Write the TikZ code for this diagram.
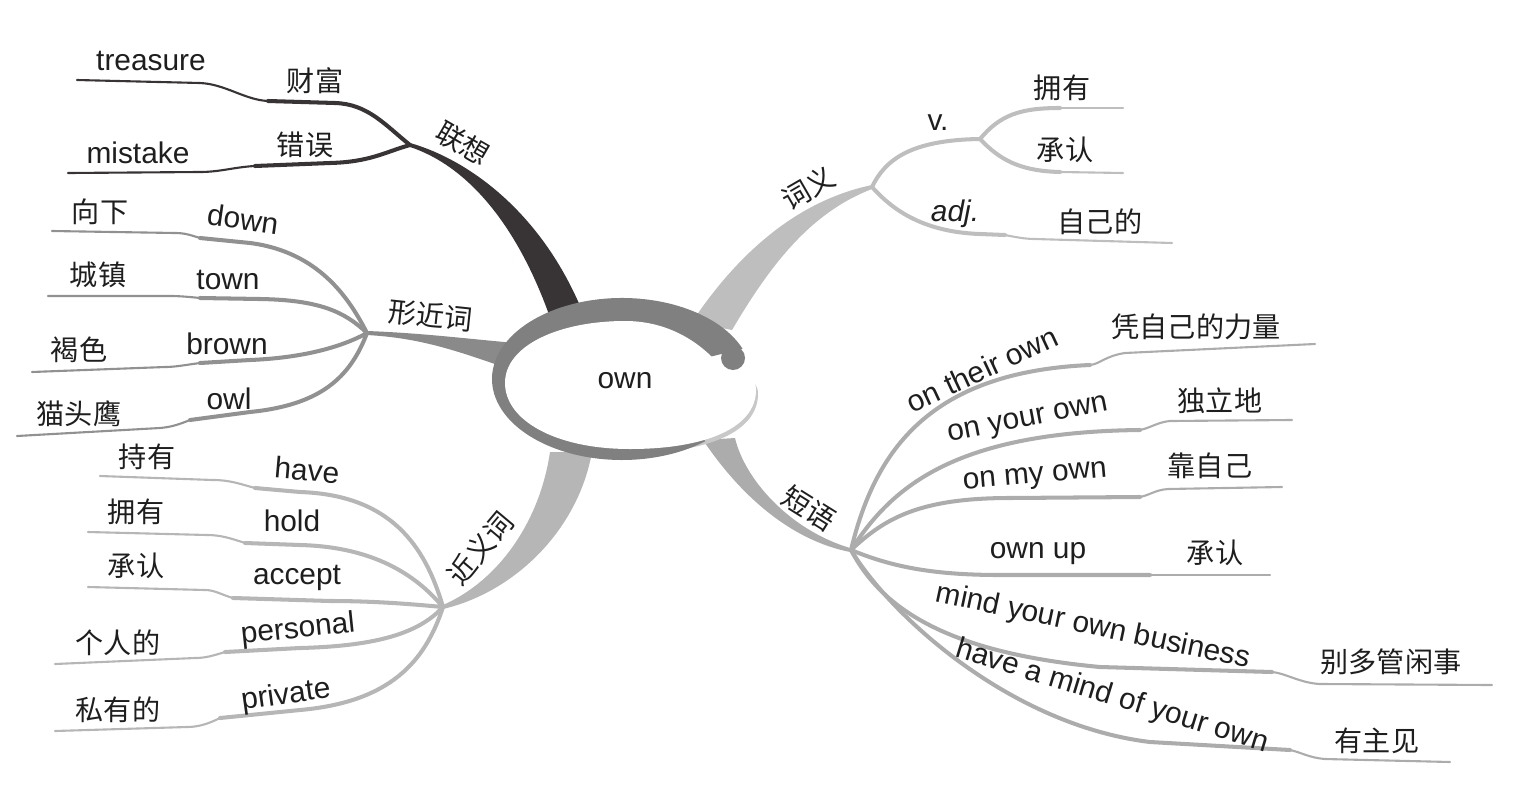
\documentclass[tikz,border=0pt]{standalone}
\usepackage{fontspec}
\setmainfont{Liberation Sans}
\newfontfamily\cjk{Noto Sans CJK SC}
\definecolor{assocdark}{RGB}{56,52,53}
\definecolor{formgray}{RGB}{145,145,145}
\definecolor{synlight}{RGB}{182,182,182}
\definecolor{senselight}{RGB}{190,190,190}
\definecolor{phrasegray}{RGB}{172,172,172}
\definecolor{ringgray}{RGB}{128,128,128}
\definecolor{rimgray}{RGB}{200,200,200}
\definecolor{inkblack}{RGB}{30,30,30}
\newcommand{\enfont}{\fontsize{17}{20}\selectfont}
\newcommand{\zhfont}{\cjk\fontsize{16}{20}\selectfont}

\begin{document}
\begin{tikzpicture}[
  x=0.02cm, y=-0.02cm,
  stem/.style={line width=2.3pt, line cap=round, line join=round},
  tail/.style={line width=1.2pt, line cap=round, line join=round},
  en/.style={font=\enfont, text=inkblack, inner sep=0pt},
  zh/.style={font=\zhfont, text=inkblack, inner sep=0pt}
]
  \useasboundingbox (0,0) rectangle (1517,801);

  \coordinate (assoc) at (410,145);
  \coordinate (form) at (367,333);
  \coordinate (syn) at (443,607);
  \coordinate (sense) at (872,187);
  \coordinate (verb) at (980,139);
  \coordinate (phrase) at (851,550);

  % main branches
  \fill[assocdark] (410,143) .. controls (470,160) and (545,215) .. (585,318) -- (553,326) .. controls (518,222) and (465,165) .. (410,147) -- cycle;
  \fill[formgray!95!black] (367,331) .. controls (420,333) and (460,338) .. (515,343) -- (512,370) .. controls (455,350) and (420,338) .. (367,335) -- cycle;
  \fill[synlight] (443,605) .. controls (500,580) and (540,520) .. (550,452) -- (592,452) .. controls (578,530) and (515,592) .. (443,609) -- cycle;
  \fill[senselight] (692,322) .. controls (740,250) and (800,200) .. (872,185) -- (872,189) .. controls (812,212) and (772,262) .. (732,330) -- cycle;
  \fill[phrasegray] (735,438) .. controls (745,480) and (790,530) .. (850,548) -- (850,552) .. controls (790,540) and (740,495) .. (703,440) -- cycle;

  % 联想
  \coordinate (treasure-end) at (77,80);
  \coordinate (mistake-end) at (68,173);
  \draw[stem, assocdark] (assoc) .. controls (385,125) and (368,104) .. (335,103) -- (268,101);
  \draw[tail, assocdark] (268,101) .. controls (245,100) and (225,84) .. (200,83) -- (treasure-end);
  \draw[stem, assocdark] (assoc) .. controls (385,152) and (370,162) .. (330,163) -- (255,166);
  \draw[tail, assocdark] (255,166) .. controls (235,167) and (220,172) .. (200,172) -- (mistake-end);

  % 形近词
  \coordinate (down-end) at (52,231);
  \coordinate (town-end) at (48,296);
  \coordinate (brown-end) at (32,372);
  \coordinate (owl-end) at (17,436);
  \draw[stem, formgray] (form) .. controls (350,300) and (320,252) .. (250,243) -- (200,238);
  \draw[tail, formgray] (200,238) .. controls (190,235) and (185,233) .. (175,233) -- (down-end);
  \draw[stem, formgray] (form) .. controls (345,312) and (320,300) .. (260,299) -- (200,298);
  \draw[tail, formgray] (200,298) .. controls (190,297) and (180,296) .. (170,296) -- (town-end);
  \draw[stem, formgray] (form) .. controls (340,348) and (300,358) .. (250,360) -- (200,363);
  \draw[tail, formgray] (200,363) .. controls (185,365) and (175,367) .. (165,367) -- (brown-end);
  \draw[stem, formgray] (form) .. controls (350,378) and (320,405) .. (250,412) -- (190,420);
  \draw[tail, formgray] (190,420) .. controls (180,424) and (172,427) .. (160,428) -- (owl-end);

  % 近义词
  \coordinate (have-end) at (100,476);
  \coordinate (hold-end) at (88,532);
  \coordinate (accept-end) at (88,587);
  \coordinate (personal-end) at (55,664);
  \coordinate (private-end) at (55,731);
  \draw[stem, synlight] (syn) .. controls (425,545) and (390,495) .. (300,492) -- (255,488);
  \draw[tail, synlight] (255,488) .. controls (240,484) and (230,480) .. (213,480) -- (have-end);
  \draw[stem, synlight] (syn) .. controls (420,580) and (380,547) .. (300,545) -- (245,543);
  \draw[tail, synlight] (245,543) .. controls (230,538) and (220,535) .. (207,535) -- (hold-end);
  \draw[stem, synlight] (syn) .. controls (420,605) and (380,601) .. (330,601) -- (233,598);
  \draw[tail, synlight] (233,598) .. controls (222,595) and (215,590) .. (205,590) -- (accept-end);
  \draw[stem, synlight] (syn) .. controls (420,632) and (380,646) .. (300,648) -- (225,652);
  \draw[tail, synlight] (225,652) .. controls (212,656) and (205,658) .. (195,658) -- (personal-end);
  \draw[stem, synlight] (syn) .. controls (425,662) and (390,702) .. (300,710) -- (220,718);
  \draw[tail, synlight] (220,718) .. controls (208,724) and (198,727) .. (187,727) -- (private-end);

  % 词义
  \coordinate (possess-end) at (1123,108);
  \coordinate (admit-end) at (1123,173);
  \coordinate (adj-end) at (1172,243);
  \draw[stem, senselight] (sense) .. controls (885,160) and (910,140) .. (verb);
  \draw[stem, senselight] (verb) .. controls (1000,115) and (1020,108) .. (1060,108);
  \draw[tail, senselight] (1060,108) -- (possess-end);
  \draw[stem, senselight] (verb) .. controls (1000,160) and (1020,171) .. (1060,172);
  \draw[tail, senselight] (1060,172) -- (admit-end);
  \draw[stem, senselight] (sense) .. controls (890,207) and (920,232) .. (980,234) -- (1005,235);
  \draw[tail, senselight] (1005,235) .. controls (1015,237) and (1025,239) .. (1035,239) -- (adj-end);

  % 短语
  \coordinate (their-end) at (1315,344);
  \coordinate (your-end) at (1292,420);
  \coordinate (my-end) at (1282,487);
  \coordinate (up-end) at (1270,575);
  \coordinate (business-end) at (1492,685);
  \coordinate (mind-end) at (1450,762);
  \draw[stem, phrasegray] (phrase) .. controls (875,450) and (930,372) .. (1090,365);
  \draw[tail, phrasegray] (1090,365) .. controls (1100,364) and (1105,356) .. (1125,353) -- (their-end);
  \draw[stem, phrasegray] (phrase) .. controls (890,490) and (950,432) .. (1140,430);
  \draw[tail, phrasegray] (1140,430) .. controls (1150,428) and (1158,422) .. (1170,421) -- (your-end);
  \draw[stem, phrasegray] (phrase) .. controls (885,518) and (920,498) .. (1010,498) -- (1140,497);
  \draw[tail, phrasegray] (1140,497) .. controls (1150,495) and (1155,490) .. (1168,489) -- (my-end);
  \draw[stem, phrasegray] (phrase) .. controls (890,566) and (930,575) .. (1000,575) -- (1150,575);
  \draw[tail, phrasegray] (1150,575) -- (up-end);
  \draw[stem, phrasegray] (phrase) .. controls (880,605) and (940,652) .. (1100,667) -- (1272,672);
  \draw[tail, phrasegray] (1272,672) .. controls (1285,673) and (1300,683) .. (1320,684) -- (business-end);
  \draw[stem, phrasegray] (phrase) .. controls (890,615) and (1010,725) .. (1150,742) -- (1290,750);
  \draw[tail, phrasegray] (1290,750) .. controls (1300,752) and (1310,758) .. (1325,759) -- (mind-end);

  % central disc
  \fill[rimgray, shift={(2,4)}] (625,321) .. controls (672,321) and (704,346) .. (721,367) .. controls (732,376) and (756,370) .. (756,390) .. controls (756,428) and (705,449) .. (630,449) .. controls (555,449) and (505,420) .. (505,383) .. controls (505,345) and (560,321) .. (625,321) -- cycle;
  \fill[ringgray] (622,379) -- ++(338:130 and 81) arc[start angle=338, end angle=50, x radius=130, y radius=81] -- cycle;
  \fill[white] (625,321) .. controls (672,321) and (704,346) .. (721,367) .. controls (732,376) and (756,370) .. (756,390) .. controls (756,428) and (705,449) .. (630,449) .. controls (555,449) and (505,420) .. (505,383) .. controls (505,345) and (560,321) .. (625,321) -- cycle;
  \fill[ringgray] (733,358) circle[radius=12];
  \node[en] (own) at (625,381) {own};

  % labels
  \node[zh, rotate=-30] (assoc-lbl) at (463,143) {联想};
  \node[zh] (wealth) at (315,81) {财富};
  \node[en] (treasure) at (151,61) {treasure};
  \node[zh] (error) at (305,145) {错误};
  \node[en] (mistake) at (138,153) {mistake};

  \node[zh, rotate=-6] (form-lbl) at (431,315) {形近词};
  \node[zh] (downward) at (100,212) {向下};
  \node[en, rotate=-8] (down) at (243,219) {down};
  \node[zh] (townzh) at (98,275) {城镇};
  \node[en] (town) at (228,280) {town};
  \node[zh] (brownzh) at (79,350) {褐色};
  \node[en] (brown) at (227,344) {brown};
  \node[zh] (owlzh) at (79,414) {猫头鹰};
  \node[en] (owl) at (229,399) {owl};

  \node[zh, rotate=50] (syn-lbl) at (480,548) {近义词};
  \node[zh] (havezh) at (147,457) {持有};
  \node[en, rotate=-5] (have) at (307,470) {have};
  \node[zh] (holdzh) at (136,512) {拥有};
  \node[en] (hold) at (292,521) {hold};
  \node[zh] (acceptzh) at (136,566) {承认};
  \node[en] (accept) at (297,578) {accept};
  \node[zh] (personalzh) at (118,643) {个人的};
  \node[en, rotate=6] (personal) at (298,630) {personal};
  \node[zh] (privatezh) at (118,710) {私有的};
  \node[en, rotate=8] (private) at (286,696) {private};

  \node[zh, rotate=30] (sense-lbl) at (808,188) {词义};
  \node[en] (v) at (938,123) {v.};
  \node[zh] (possess) at (1062,88) {拥有};
  \node[zh] (admit) at (1065,150) {承认};
  \node[en] (adj) at (955,214) {\itshape adj.};
  \node[zh] (oneself) at (1100,222) {自己的};

  \node[zh, rotate=-32] (phrase-lbl) at (809,508) {短语};
  \node[en, rotate=25] (their) at (982,369) {on their own};
  \node[zh] (strength) at (1196,327) {凭自己的力量};
  \node[en, rotate=11] (your) at (1028,421) {on your own};
  \node[zh] (alone) at (1220,401) {独立地};
  \node[en, rotate=5] (my) at (1035,478) {on my own};
  \node[zh] (self) at (1210,466) {靠自己};
  \node[en] (up) at (1038,554) {own up};
  \node[zh] (confess) at (1215,553) {承认};
  \node[en, rotate=-12] (business) at (1093,627) {mind your own business};
  \node[zh] (nosy) at (1391,662) {别多管闲事};
  \node[en, rotate=-17] (mind) at (1112,697) {have a mind of your own};
  \node[zh] (opinion) at (1377,741) {有主见};
\end{tikzpicture}
\end{document}
